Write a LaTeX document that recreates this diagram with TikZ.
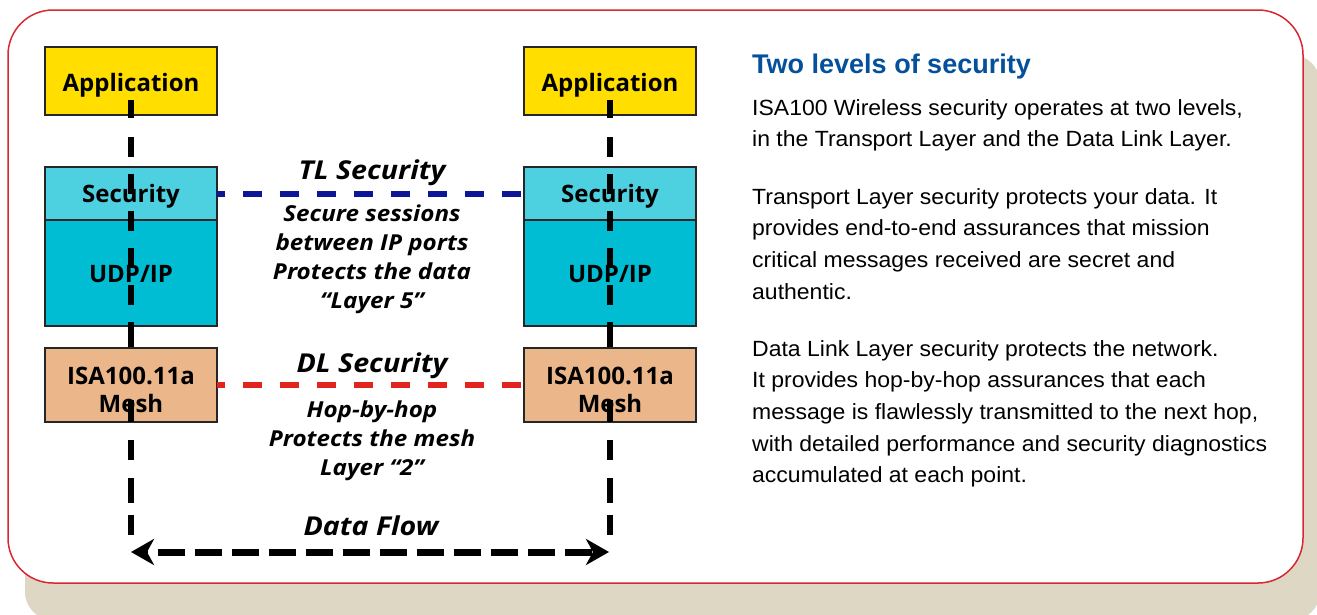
\documentclass[tikz,border=0pt]{standalone}
\usepackage{fontspec}
\setmainfont{Open Sans}
\newfontfamily\notefont[FakeStretch=1.1]{Open Sans}
\newfontfamily\bodyfont[FakeStretch=1.045]{Liberation Sans}
\newfontfamily\headfont{Liberation Sans}
\usetikzlibrary{arrows.meta,calc}

\definecolor{shadowtan}{RGB}{221,215,195}
\definecolor{frame}{RGB}{215,40,50}
\definecolor{appyellow}{RGB}{255,222,0}
\definecolor{seccyan}{RGB}{77,209,225}
\definecolor{udpcyan}{RGB}{0,189,212}
\definecolor{meshtan}{RGB}{234,182,138}
\definecolor{tlblue}{RGB}{12,22,150}
\definecolor{dlred}{RGB}{226,36,30}
\definecolor{headblue}{RGB}{5,80,155}

\begin{document}
\begin{tikzpicture}[x=1pt,y=-1pt,
  box/.style={draw=black!85, line width=1.6pt, minimum width=172pt, inner sep=0pt, outer sep=0pt},
  boxlabel/.style={font=\fontsize{24}{28}\selectfont\bfseries, align=center, inner sep=0pt},
  secname/.style={font=\notefont\fontsize{26}{30}\selectfont\bfseries\itshape, inner sep=0pt},
  secnote/.style={font=\notefont\fontsize{22}{29}\selectfont\bfseries\itshape, align=center, inner sep=0pt},
  flow/.style={line width=6.5pt, dash pattern=on 18pt off 19pt on 20pt off 17pt on 20pt off 17pt
      on 20pt off 17pt on 20pt off 17pt on 20pt off 17pt on 25pt off 53pt on 22pt off 18pt
      on 20pt off 18pt on 25pt off 12pt on 20pt off 50pt},
  link/.style={line width=6pt, dash pattern=on 19pt off 18pt, dash phase=11pt},
  body/.style={font=\bodyfont\fontsize{22}{31.7}\selectfont, anchor=base west, inner sep=0pt},
]
\useasboundingbox (0,0) rectangle (1317,614);

% panel with its drop shadow
\begin{scope}
  \clip (0,0) rectangle (1317,614);
  \fill[shadowtan, rounded corners=28pt] (25,55) rectangle (1320,620);
\end{scope}
\draw[frame, line width=1.5pt, fill=white, rounded corners=45pt] (8,10) rectangle (1303,583);

% protocol stacks
\foreach \s/\cx in {L/131, R/610} {
  \node[box, fill=appyellow, minimum height=68pt] (app\s) at (\cx,81) {};
  \node[box, fill=seccyan, minimum height=53pt] (sec\s) at (\cx,193.5) {};
  \node[box, fill=udpcyan, minimum height=106pt] (udp\s) at (\cx,273) {};
  \node[box, fill=meshtan, minimum height=74pt] (mesh\s) at (\cx,385) {};
  \coordinate (top\s) at (\cx,100);
  \coordinate (bot\s) at (\cx,535);
}

% data path through each stack
\draw[flow] (topL) -- (botL);
\draw[flow] (topR) -- (botR);

% peer-to-peer security links
\draw[link, tlblue] (secL.east) -- (secR.west);
\draw[link, dlred] (meshL.east) -- (meshR.west);

% data flow arrow
\coordinate (arrL) at (131,552);
\coordinate (arrR) at (609,552);
\draw[line width=7pt, dash pattern=on 27pt off 10pt, dash phase=-12pt,
      {Stealth[length=23pt,width=26pt,inset=7pt]}-{Stealth[length=23pt,width=26pt,inset=7pt]}]
      (arrL) -- (arrR);

% stack labels
\foreach \s in {L, R} {
  \node[boxlabel] (appT\s) at ($(app\s.center)+(0,4)$) {Application};
  \node[boxlabel] (secT\s) at ($(sec\s.center)+(0,3)$) {Security};
  \node[boxlabel] (udpT\s) at ($(udp\s.center)+(0,1)$) {UDP/IP};
  \node[boxlabel] (meshT\s) at ($(mesh\s.center)+(0,5)$) {ISA100.11a\\Mesh};
}

% security level annotations
\node[secname] (tl) at (372,173) {TL Security};
\node[secnote] (tlnote) at (372,259) {Secure sessions\\between IP ports\\Protects the data\\“Layer 5”};
\node[secname] (dl) at (372,366) {DL Security};
\node[secnote] (dlnote) at (372,441) {Hop-by-hop\\Protects the mesh\\Layer “2”};
\node[secname] (df) at (371,526) {Data Flow};

% explanatory text
\node[anchor=base west, inner sep=0pt, text=headblue,
      font=\headfont\fontsize{27}{30}\selectfont\bfseries] (head) at (752,73) {Two levels of security};
\node[body] (p1a) at (752,115) {ISA100 Wireless security operates at two levels,};
\node[body] (p1b) at (752,146.7) {in the Transport Layer and the Data Link Layer.};
\node[body] (p2a) at (752,204) {Transport Layer security protects your data. It};
\node[body] (p2b) at (752,235.7) {provides end-to-end assurances that mission};
\node[body] (p2c) at (752,267.4) {critical messages received are secret and};
\node[body] (p2d) at (752,299) {authentic.};
\node[body] (p3a) at (752,356) {Data Link Layer security protects the network.};
\node[body] (p3b) at (752,387.7) {It provides hop-by-hop assurances that each};
\node[body] (p3c) at (752,419.4) {message is flawlessly transmitted to the next hop,};
\node[body] (p3d) at (752,451) {with detailed performance and security diagnostics};
\node[body] (p3e) at (752,482.7) {accumulated at each point.};
\end{tikzpicture}
\end{document}
